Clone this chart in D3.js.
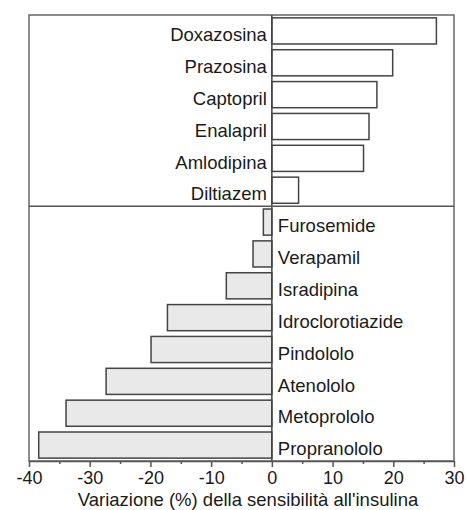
<!DOCTYPE html>
<html>
<head>
<meta charset="utf-8">
<script src="https://cdn.jsdelivr.net/npm/d3@7/dist/d3.min.js"></script>
<style>
html,body{margin:0;padding:0;background:#fff;}
svg{display:block;}
text{font-family:"Liberation Sans",Arial,sans-serif;fill:#1a1a1a;}
</style>
</head>
<body>
<svg id="chart" width="467" height="510"></svg>
<script>
const categories = ["Doxazosina","Prazosina","Captopril","Enalapril","Amlodipina","Diltiazem",
  "Furosemide","Verapamil","Isradipina","Idroclorotiazide","Pindololo","Atenololo","Metoprololo","Propranololo"];
const values = [27.1, 19.9, 17.3, 16.0, 15.1, 4.4, -1.4, -3.1, -7.5, -17.2, -19.9, -27.3, -33.9, -38.4];
const xTicks = [-40, -30, -20, -10, 0, 10, 20, 30];
const xMinorTicks = [-35, -25, -15, -5, 5, 15, 25];
const xTitle = "Variazione (%) della sensibilità all'insulina";

const svg = d3.select("#chart");
const L = 29, R = 454, T = 15, B = 461;

const x = d3.scaleLinear().domain([-40, 30]).range([L, R]);
const y = d3.scaleBand().domain(categories).range([T, B]).paddingInner(0.18).paddingOuter(0.09);

const data = categories.map((c, i) => ({name: c, value: values[i]}));

// bars
svg.append("g").selectAll("rect").data(data).join("rect")
  .attr("x", d => x(Math.min(0, d.value)))
  .attr("y", d => y(d.name))
  .attr("width", d => Math.abs(x(d.value) - x(0)))
  .attr("height", y.bandwidth())
  .attr("fill", d => d.value >= 0 ? "#ffffff" : "#e9e9e9")
  .attr("stroke", "#444")
  .attr("stroke-width", 1.5);

// frame
svg.append("rect").attr("x", L).attr("y", T).attr("width", R - L).attr("height", B - T)
  .attr("fill", "none").attr("stroke", "#666").attr("stroke-width", 1.5);

// zero line
svg.append("line").attr("x1", x(0)).attr("x2", x(0)).attr("y1", T).attr("y2", B)
  .attr("stroke", "#444").attr("stroke-width", 1.5);

// divider between positive and negative groups
const firstNeg = data.find(d => d.value < 0).name;
const divY = y(firstNeg) - y.step() * y.paddingInner() / 2;
svg.append("line").attr("x1", L).attr("x2", R).attr("y1", divY).attr("y2", divY)
  .attr("stroke", "#555").attr("stroke-width", 1.5);

// category labels
svg.append("g").selectAll("text").data(data).join("text")
  .attr("x", d => d.value >= 0 ? x(0) - 5 : x(0) + 6)
  .attr("y", d => y(d.name) + y.bandwidth() / 2)
  .attr("dy", "0.55em")
  .attr("text-anchor", d => d.value >= 0 ? "end" : "start")
  .style("font-size", "18.5px")
  .text(d => d.name);

// x axis
const axis = svg.append("g").attr("transform", `translate(0,${B})`)
  .call(d3.axisBottom(x).tickValues(xTicks).tickSize(6).tickSizeOuter(0).tickFormat(d => String(d)));
axis.select(".domain").attr("stroke", "#555").attr("stroke-width", 1.5);
axis.selectAll(".tick line").attr("stroke", "#555").attr("stroke-width", 1.5);
axis.selectAll(".tick text").style("font-size", "18px").attr("fill", "#1a1a1a")
  .attr("font-family", "Liberation Sans, Arial, sans-serif").attr("dy", "0.8em");

svg.append("g").attr("transform", `translate(0,${B})`)
  .call(d3.axisBottom(x).tickValues(xMinorTicks).tickSize(3).tickFormat(""))
  .call(g => g.select(".domain").remove())
  .selectAll(".tick line").attr("stroke", "#555").attr("stroke-width", 1.5);

// axis title
svg.append("text").attr("x", 248).attr("y", 506)
  .attr("text-anchor", "middle").style("font-size", "18.5px").text(xTitle);
</script>
</body>
</html>
